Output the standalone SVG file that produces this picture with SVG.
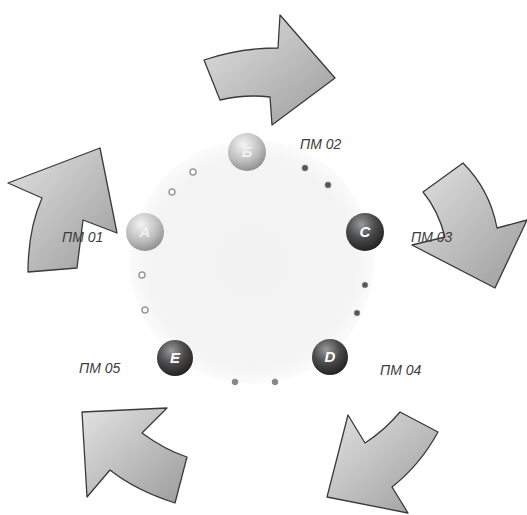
<svg xmlns="http://www.w3.org/2000/svg" width="527" height="515" viewBox="0 0 527 515">
<defs>
<linearGradient id="ag" x1="0" y1="0" x2="1" y2="1"><stop offset="0" stop-color="#e2e2e2"/><stop offset="1" stop-color="#9c9c9c"/></linearGradient>
<radialGradient id="light" cx="0.4" cy="0.3" r="0.75"><stop offset="0" stop-color="#f4f4f4"/><stop offset="0.6" stop-color="#bdbdbd"/><stop offset="1" stop-color="#8a8a8a"/></radialGradient>
<radialGradient id="dark" cx="0.4" cy="0.3" r="0.75"><stop offset="0" stop-color="#9a9a9a"/><stop offset="0.5" stop-color="#4a4a4a"/><stop offset="1" stop-color="#1e1e1e"/></radialGradient>
<radialGradient id="bg" cx="0.5" cy="0.5" r="0.5"><stop offset="0" stop-color="#f2f2f2"/><stop offset="0.85" stop-color="#f4f4f4"/><stop offset="1" stop-color="#fbfbfb"/></radialGradient>
</defs>
<style>
.arrow{fill:url(#ag);stroke:#3a3a3a;stroke-width:1.3;stroke-linejoin:round}
.lbl{font-family:"Liberation Sans",Arial,sans-serif;font-style:italic;font-size:14px;fill:#3c3c3c}
.let{font-family:"Liberation Sans",Arial,sans-serif;font-style:italic;font-weight:bold;font-size:15px;fill:#fff;text-anchor:middle}
.hol{fill:#fff;stroke:#9a9a9a;stroke-width:1.5}
.dot{fill:#555;stroke:#888;stroke-width:1}
</style>
<rect width="527" height="515" fill="#fff"/>
<circle cx="252" cy="262" r="122" fill="url(#bg)"/>
<g id="connectors">
<circle class="hol" cx="193" cy="172" r="3"/>
<circle class="hol" cx="172" cy="192" r="3"/>
<circle class="hol" cx="142" cy="275" r="3"/>
<circle class="hol" cx="145" cy="310" r="3"/>
<circle class="dot" cx="305" cy="168" r="3"/>
<circle class="dot" cx="328" cy="185" r="3"/>
<circle class="dot" cx="365" cy="285" r="2.8"/>
<circle class="dot" cx="357" cy="313" r="2.8"/>
<circle class="dot" cx="235" cy="382" r="2.8" style="fill:#888"/>
<circle class="dot" cx="275" cy="382" r="2.8" style="fill:#888"/>
</g>
<g id="arrow-top"><path class="arrow" d="M204,60 Q240,48 278,48 L280,15 L335,78 L272,125 L270,97 Q245,94 220,100 Z"/></g>
<g id="arrow-left"><path class="arrow" d="M28,272 L77,268 L83,220 L117,233 L100,148 L8,183 L42,198 Q28,230 28,272 Z"/></g>
<g id="arrow-right"><path class="arrow" d="M423,192 L463,163 Q490,190 497,228 L527,220 L495,288 L412,245 L445,237 Q438,210 423,192 Z"/></g>
<g id="arrow-bl"><path class="arrow" d="M82,412 L167,408 L142,433 Q165,450 187,457 L175,503 Q135,490 110,470 L87,497 Z"/></g>
<g id="arrow-br"><path class="arrow" d="M327,497 L348,415 L365,443 Q385,430 400,412 L438,432 Q420,465 392,487 L408,513 Z"/></g>
<g id="node-b"><circle cx="247" cy="152" r="19" fill="url(#light)"/><text class="let" x="247" y="157" style="fill:#f0f0f0">Б</text><text class="lbl" x="300" y="149">ПМ 02</text></g>
<g id="node-a"><circle cx="145" cy="232" r="19" fill="url(#light)"/><text class="let" x="145" y="237" style="fill:#f0f0f0">А</text><text class="lbl" x="62" y="242">ПМ 01</text></g>
<g id="node-c"><circle cx="365" cy="232" r="19" fill="url(#dark)"/><text class="let" x="365" y="237">C</text><text class="lbl" x="411" y="242">ПМ 03</text></g>
<g id="node-d"><circle cx="330" cy="357" r="18" fill="url(#dark)"/><text class="let" x="330" y="362">D</text><text class="lbl" x="380" y="375">ПМ 04</text></g>
<g id="node-e"><circle cx="175" cy="358" r="18" fill="url(#dark)"/><text class="let" x="175" y="363">E</text><text class="lbl" x="79" y="373">ПМ 05</text></g>
</svg>
